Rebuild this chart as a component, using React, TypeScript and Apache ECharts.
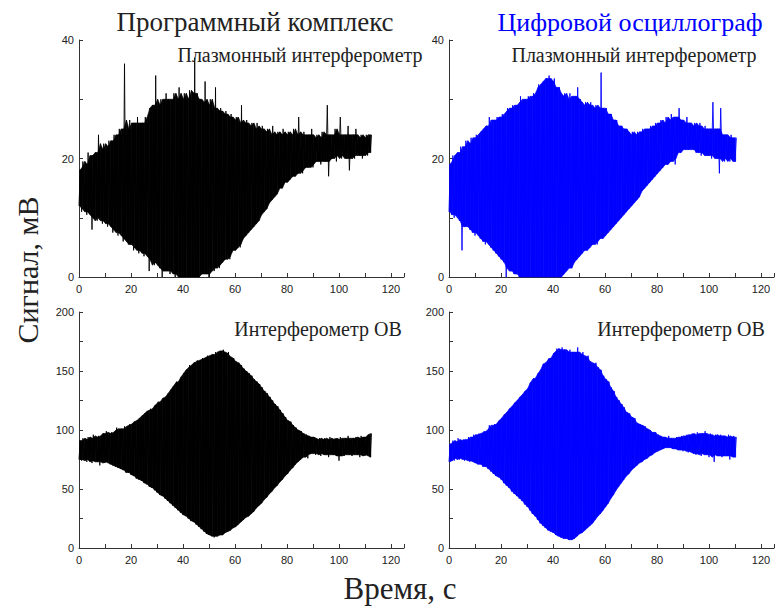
import React, { useEffect, useRef } from "react";
import * as echarts from "echarts";

// Time step of envelope samples: 1 s, starting at 0 s
const TL_HI = [18,19.5,18.5,21,19,20.5,21,24,21,22.5,21.5,23,22,24,23,25,24,36,25,26.5,25,26,27,25.5,26,27,26,28.5,29,34,29,30,29,31,30,29.5,31,30,32,30,31,30,31.5,30,37,31,30,29.5,33,29,30,28.5,32,28,28.5,27.5,28,27,27.5,26.5,27,26,29,26,26.5,25.5,26,25,26,25,25.5,24.5,25,24,25.5,24,24.5,24,25,23.5,24.5,24,25,23.5,27,24,24.5,23.5,24,25,23.5,24,23.5,24.5,23,29,24,23.5,25,24,27,23.5,24,25.5,23.5,24,25,23.5,24,23.5,24,23.5,24];
const TL_LO = [12,11,11.5,10.5,11,8,10,9.5,10,9,9.5,8.5,9,7.5,8,7,7.5,6,6.5,5.5,5.5,4.5,5,4,4.5,3.5,4,1,3,2,2.5,1.5,0,1,1.5,0.5,1,0,0.5,0,0,0.5,0,0,0.5,0,0,0.5,1,0.5,0,1.5,1,2,1.5,2.5,3,3.5,3,4.5,4.5,5.5,5,6.5,7,7.5,8,8.5,9,9.5,10.5,11,11.5,12.5,13,13.5,14,15,15,16,16,16.5,17,17,17.5,18,17.5,18.5,18.5,19,18.5,19.5,19.5,19,20,19.5,17,20,20.5,19.5,20.5,20,20.5,20,18,20.5,20,21,20.5,20,21,20.5,21];

const TR_HI = [19,20.5,19.5,21,22,21,23,22,23.5,22.5,24,23.5,24.5,25,25.5,27,25.5,26.5,27,26,27.5,27,28.5,28,29,28.5,29,30.5,29.5,30,30.5,30,31,30.5,32.5,32,33,33.5,34,33,33.5,32,32,30.5,31,30,31,30,30.5,32,30,29,29.5,29,29.5,28.5,29,28.5,34.5,28.5,28.5,27.5,27.5,26.5,26.5,25.5,25.5,25,25,24,24.5,24,24.5,24,25,24.5,25,25.5,25,26,25.5,26.5,26,27,26,27.5,26.5,27,28.5,26.5,26,27,26,25.5,26,25.5,26,25,25.5,25,25,29.5,24.5,25,28.5,24,24,23.5,24,23,23.5];
const TR_LO = [11,10.5,10,10.5,9.5,4.5,8.5,9,8,7.5,7,7.5,6.5,6,5.5,6,5,4.5,4,3.5,3,2.5,0,1.5,1,0.5,0.5,0,0,0,0,0,0,0,0,0,0,0,0,0,0,0,0,0,0.5,1,1.5,1.5,2.5,3,3.5,4,4.5,4.5,5,5.5,6,5.5,6.5,6.5,7,7.5,8,8.5,9,9.5,10,10.5,11,11.5,12,12.5,13,13.5,14.5,15,15.5,16,16.5,17,17.5,18,18.5,19,19,19.5,20,19,21,21,21.5,21.5,21.5,22,21.5,21,21,20.5,21,20.5,20.5,20,20.5,20,17.5,20,19.5,20,19.5,20,19.5];

const BL_HI = [91,93,90,94,92,96,93,95,94,97,99,95,98,97,102,100,101,103,101,105,104,107,108,110,112,114,116,118,117,121,124,123,127,128,131,134,137,141,140,145,148,151,155,153,157,159,158,161,160,163,162,164,166,163,167,168,165,166,162,161,158,157,155,152,150,148,146,143,141,139,136,133,131,128,125,122,120,117,114,111,108,107,104,102,100,99,97,96,95,94,94,92,93,91,93,92,94,91,93,92,94,91,93,95,92,93,94,92,95,93,94,96,97];
const BL_LO = [75,74,76,73,75,72,74,73,70,74,72,73,71,70,69,68,67,66,64,64,62,61,59,58,57,55,54,52,51,49,47,45,44,42,40,38,36,34,32,30,28,27,25,23,22,20,18,16,14,12,11,10,9,10,11,11,13,14,15,17,18,20,22,24,26,27,29,31,34,36,38,41,43,46,48,51,53,56,58,61,63,66,68,71,73,75,77,79,76,80,81,79,80,78,80,79,77,80,79,78,74,79,78,80,79,78,80,79,77,80,78,79,77];

const BR_HI = [88,91,89,93,90,92,91,94,92,96,94,97,96,99,98,104,101,105,104,108,110,113,115,118,120,123,125,128,130,133,135,140,144,143,148,151,156,157,161,160,165,169,167,170,168,166,168,163,166,170,164,166,162,163,158,156,157,153,151,146,143,141,136,133,128,125,122,119,115,114,111,110,106,105,104,103,101,100,98,98,96,95,94,93,95,93,92,94,93,95,94,96,95,97,96,98,96,97,99,96,97,95,96,94,96,95,94,96,93,95,94];
const BR_LO = [73,76,74,77,75,76,74,75,73,74,72,71,71,69,69,67,65,63,61,60,58,55,53,51,48,46,44,42,40,37,35,32,29,27,24,21,19,17,15,14,13,11,10,9,8,8,7,7,8,10,12,13,15,17,19,21,24,27,29,32,35,38,42,45,49,52,55,58,61,63,66,68,70,72,73,75,76,78,79,81,82,83,84,85,85,85,84,84,83,83,82,83,81,82,80,79,81,78,80,79,77,79,73,79,78,77,79,78,75,78,77];

const X_TICKS_INTERVAL = 20;
const TOP_Y_MAX = 40;
const BOTTOM_Y_MAX = 200;

const TITLE_LEFT = "Программный комплекс";
const TITLE_RIGHT = "Цифровой осциллограф";
const SUB_TOP = "Плазмонный интерферометр";
const SUB_BOTTOM = "Интерферометр ОВ";
const Y_NAME = "Сигнал, мВ";
const X_NAME = "Время, с";

function zigzag(lo: number[], hi: number[]) {
  const pts: [number, number][] = [];
  for (let i = 0; i < lo.length; i++) {
    pts.push([i, lo[i]]);
    pts.push([i + 0.5, hi[i]]);
  }
  return pts;
}

// 3-point median, so single spikes stay thin (drawn only by the trace)
function median3(a: number[]) {
  return a.map((v, k) => {
    const p = a[Math.max(0, k - 1)];
    const n = a[Math.min(a.length - 1, k + 1)];
    return [p, v, n].sort((x, y) => x - y)[1];
  });
}

const SERIF = "'Liberation Serif', 'Times New Roman', serif";
const SANS = "'Liberation Sans', Arial, sans-serif";

export default function App() {
  const ref = useRef<HTMLDivElement>(null);
  useEffect(() => {
    document.body.style.margin = "0";
    if (!ref.current) return;
    const chart = echarts.init(ref.current, undefined, { renderer: "svg" });
    const grids = [
      { left: 79, top: 40, width: 325, height: 237 },
      { left: 449, top: 40, width: 325, height: 237 },
      { left: 79, top: 312, width: 325, height: 236 },
      { left: 449, top: 312, width: 325, height: 236 },
    ];
    const axisCommon = {
      axisLine: { show: true, lineStyle: { color: "#333", width: 1 } },
      axisTick: { show: true, inside: true, length: 4, lineStyle: { color: "#333" } },
      minorTick: { show: true, splitNumber: 2, length: 4, lineStyle: { color: "#333" } },
      splitLine: { show: false },
      minorSplitLine: { show: false },
    };
    const xAxes = grids.map((_, i) => ({
      type: "value",
      gridIndex: i,
      min: 0,
      max: 125,
      interval: X_TICKS_INTERVAL,
      ...axisCommon,
      axisLabel: { color: "#222", fontFamily: SANS, fontSize: 11, margin: 6, showMaxLabel: false },
    }));
    const yAxes = grids.map((_, i) => ({
      type: "value",
      gridIndex: i,
      min: 0,
      max: i < 2 ? TOP_Y_MAX : BOTTOM_Y_MAX,
      interval: i < 2 ? 20 : 50,
      ...axisCommon,
      axisLabel: { color: "#222", fontFamily: SANS, fontSize: 11, margin: 5 },
    }));
    const panels = [
      [TL_LO, TL_HI],
      [TR_LO, TR_HI],
      [BL_LO, BL_HI],
      [BR_LO, BR_HI],
    ];
    const colors = ["#000000", "#0000ff", "#000000", "#0000ff"];
    const series: any[] = [];
    panels.forEach(([lo, hi], i) => {
      const bLo = median3(lo);
      const bHi = median3(hi);
      // filled band between the envelopes
      series.push({
        type: "custom",
        xAxisIndex: i,
        yAxisIndex: i,
        silent: true,
        data: lo.map((v, k) => [k, v, hi[k]]),
        renderItem: (params: any, api: any) => {
          const k = params.dataIndex;
          if (k >= lo.length - 1) return null;
          const pts = [
            api.coord([k + 0.25, bLo[k]]),
            api.coord([k + 1.25, bLo[k + 1]]),
            api.coord([k + 1.25, bHi[k + 1]]),
            api.coord([k + 0.25, bHi[k]]),
          ];
          return {
            type: "polygon",
            shape: { points: pts },
            style: { fill: colors[i], stroke: colors[i], lineWidth: 0.6 },
          };
        },
      });
      // oscillating trace
      series.push({
        type: "line",
        xAxisIndex: i,
        yAxisIndex: i,
        data: zigzag(lo, hi),
        showSymbol: false,
        symbol: "none",
        clip: true,
        lineStyle: { color: colors[i], width: 0.9 },
      });
    });
    const txt = (text: string, x: number, y: number, size: number, color = "#222", rotation = 0) => ({
      type: "text",
      x,
      y,
      rotation,
      z: 100,
      style: {
        text,
        fill: color,
        font: `${size}px ${SERIF}`,
        textAlign: "center",
        textVerticalAlign: "middle",
      },
    });
    chart.setOption({
      animation: false,
      backgroundColor: "#ffffff",
      grid: grids,
      xAxis: xAxes,
      yAxis: yAxes,
      series,
      graphic: [
        txt(TITLE_LEFT, 255, 22, 27),
        txt(TITLE_RIGHT, 630, 22, 26, "#0000ff"),
        txt(SUB_TOP, 300, 55, 20),
        txt(SUB_TOP, 634, 55, 20),
        txt(SUB_BOTTOM, 318, 329, 20),
        txt(SUB_BOTTOM, 681, 329, 20),
        txt(Y_NAME, 27, 270, 30, "#222", Math.PI / 2),
        txt(X_NAME, 400, 588, 31),
      ],
    });
    return () => chart.dispose();
  }, []);
  return <div ref={ref} style={{ width: 777, height: 610 }} />;
}
